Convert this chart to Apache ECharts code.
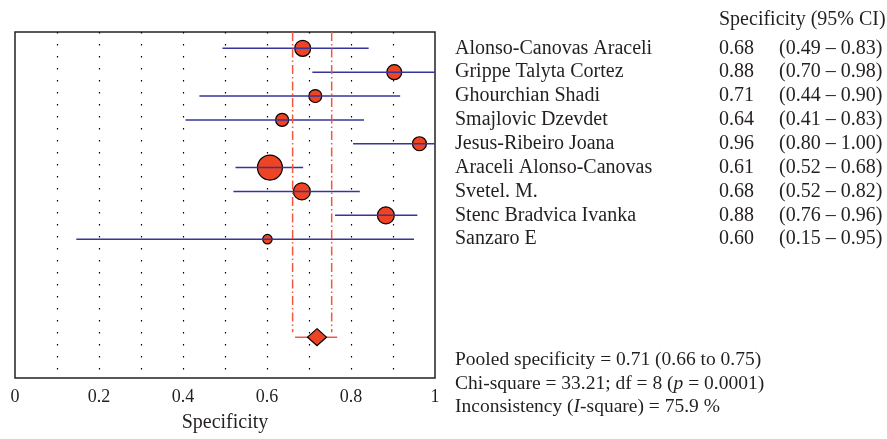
<!DOCTYPE html>
<html><head><meta charset="utf-8">
<script src="https://cdn.jsdelivr.net/npm/echarts@6/dist/echarts.min.js"></script>
<style>html,body{margin:0;padding:0;background:#fff}#c{width:887px;height:439px}</style>
</head><body><div id="c"></div>
<script>
// ---- data ----
const studies = ['Alonso-Canovas Araceli','Grippe Talyta Cortez','Ghourchian Shadi','Smajlovic Dzevdet','Jesus-Ribeiro Joana','Araceli Alonso-Canovas','Svetel. M.','Stenc Bradvica Ivanka','Sanzaro E'];
const specText = ['0.68','0.88','0.71','0.64','0.96','0.61','0.68','0.88','0.60'];
const ciText = ['(0.49 – 0.83)','(0.70 – 0.98)','(0.44 – 0.90)','(0.41 – 0.83)','(0.80 – 1.00)','(0.52 – 0.68)','(0.52 – 0.82)','(0.76 – 0.96)','(0.15 – 0.95)'];
const est = [0.685, 0.903, 0.715, 0.636, 0.963, 0.607, 0.683, 0.883, 0.601];
const ciLo = [0.494, 0.708, 0.439, 0.406, 0.805, 0.525, 0.520, 0.762, 0.146];
const ciHi = [0.842, 1.000, 0.917, 0.831, 1.000, 0.686, 0.821, 0.958, 0.950];
const weights = [11.1, 9.7, 7.3, 7.3, 8.5, 27.1, 12.5, 12.5, 3.9];
const pooledEst = 0.719;
const pooledBand = [0.661, 0.754];
const pooledBar = [0.667, 0.767];
const xTicks = [0, 0.2, 0.4, 0.6, 0.8, 1];
const header = 'Specificity (95% CI)';
const statsLines = ['Pooled specificity = 0.71 (0.66 to 0.75)', 'Chi-square = 33.21; df = 8 ({i|p} = 0.0001)', 'Inconsistency ({i|I}-square) = 75.9 %'];

// ---- chart ----
const FONT = '"Liberation Serif", "DejaVu Serif", serif';
const TXT = '#231f20';
const ROW_POOLED = 13.11, BAND_END = 12.9;
const chart = echarts.init(document.getElementById('c'), null, {renderer: 'canvas'});
const rows = studies.map((_, i) => i + 1);

const option = {
  animation: false,
  grid: {left: 15, top: 32, width: 420, height: 346, show: true, borderColor: '#222', borderWidth: 1.5, containLabel: false},
  xAxis: {
    type: 'value', min: 0, max: 1, interval: 0.1,
    axisLine: {show: false}, axisTick: {show: false},
    splitLine: {show: true, showMinLine: false, showMaxLine: false, lineStyle: {color: '#000', type: [1.5, 10.5], width: 1.2}},
    axisLabel: {
      fontFamily: FONT, fontSize: 18, color: TXT, margin: 10,
      formatter: v => { const t = xTicks.find(x => Math.abs(x - v) < 1e-6); return t === undefined ? '' : String(t); }
    },
    name: 'Specificity', nameLocation: 'middle', nameGap: 35,
    nameTextStyle: {fontFamily: FONT, fontSize: 20, color: TXT}
  },
  yAxis: {type: 'value', inverse: true, min: 0.316, max: 14.82, show: false, splitLine: {show: false}},
  series: [
    {
      type: 'scatter', z: 2,
      data: est.map((v, i) => [v, rows[i], weights[i]]),
      symbol: 'circle',
      symbolSize: d => Math.sqrt(d[2]) * 4.8,
      itemStyle: {color: '#EE4423', borderColor: '#000', borderWidth: 1.2, opacity: 1}
    },
    {
      type: 'custom', z: 3, clip: true,
      data: ciLo.map((v, i) => [v, ciHi[i], rows[i]]),
      renderItem: (params, api) => {
        const a = api.coord([api.value(0), api.value(2)]);
        const b = api.coord([api.value(1), api.value(2)]);
        return {type: 'line', shape: {x1: a[0], y1: a[1], x2: b[0], y2: b[1]}, style: {stroke: '#35359a', lineWidth: 1.5}};
      }
    },
    {
      type: 'custom', z: 4, clip: true,
      data: [[pooledBand[0], pooledBand[1], pooledBar[0], pooledBar[1]]],
      renderItem: (params, api) => {
        const ymin = 0.316;
        const l1a = api.coord([api.value(0), ymin]), l1b = api.coord([api.value(0), BAND_END]);
        const l2a = api.coord([api.value(1), ymin]), l2b = api.coord([api.value(1), BAND_END]);
        const ha = api.coord([api.value(2), ROW_POOLED]), hb = api.coord([api.value(3), ROW_POOLED]);
        const dash = {stroke: '#F2583E', lineWidth: 1.5, lineDash: [9, 3, 1.5, 3]};
        return {type: 'group', children: [
          {type: 'line', shape: {x1: l1a[0], y1: l1a[1], x2: l1b[0], y2: l1b[1]}, style: dash},
          {type: 'line', shape: {x1: l2a[0], y1: l2a[1], x2: l2b[0], y2: l2b[1]}, style: dash},
          {type: 'line', shape: {x1: ha[0], y1: ha[1], x2: hb[0], y2: hb[1]}, style: {stroke: '#F2583E', lineWidth: 1.5}}
        ]};
      }
    },
    {
      type: 'scatter', z: 5,
      data: [[pooledEst, ROW_POOLED]],
      symbol: 'diamond', symbolSize: [19, 17],
      itemStyle: {color: '#EE4423', borderColor: '#000', borderWidth: 1.2, opacity: 1}
    }
  ]
};
chart.setOption(option);

const graphics = [];
const textStyle = (extra) => Object.assign({fontFamily: FONT, fontSize: 20, fill: TXT, verticalAlign: 'middle', align: 'left'}, extra || {});
graphics.push({type: 'text', x: 719, y: 20, style: textStyle({text: header})});
rows.forEach((r, i) => {
  const y = chart.convertToPixel({gridIndex: 0}, [0, r])[1];
  graphics.push({type: 'text', x: 455, y: y, style: textStyle({text: studies[i]})});
  graphics.push({type: 'text', x: 719, y: y, style: textStyle({text: specText[i]})});
  graphics.push({type: 'text', x: 779, y: y, style: textStyle({text: ciText[i]})});
});
statsLines.forEach((s, i) => {
  graphics.push({type: 'text', x: 455, y: 360 + i * 23.5, style: textStyle({
    text: s, fontSize: 19.5, rich: {i: {fontFamily: FONT, fontSize: 19.5, fontStyle: 'italic', fill: TXT}}
  })});
});
chart.setOption({graphic: graphics});
</script></body></html>
